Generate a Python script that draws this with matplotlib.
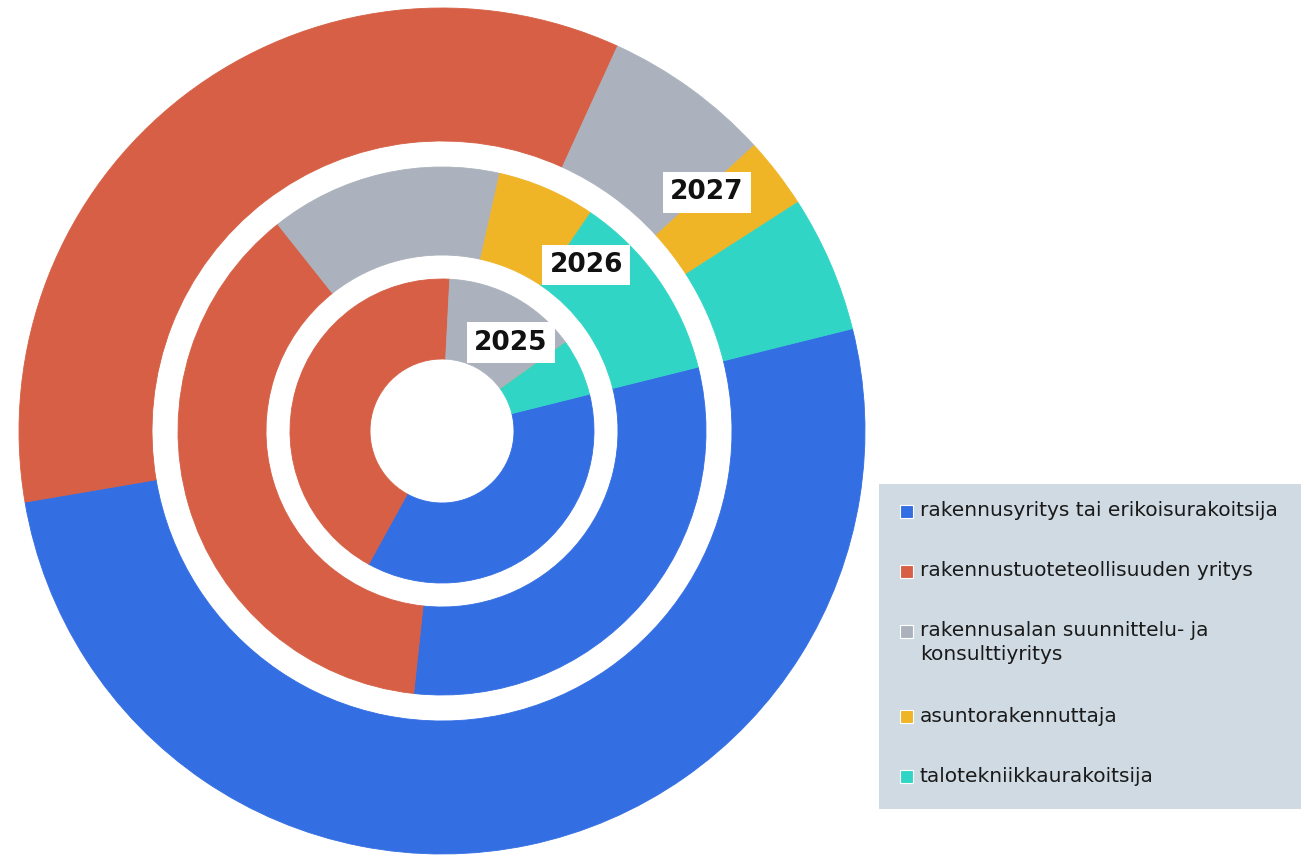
import matplotlib
matplotlib.use("Agg")
import numpy as np
import matplotlib.pyplot as plt
from matplotlib.patches import Rectangle

# ── Data (% share per ring) ───────────────────────────────────
categories = [
    "rakennusyritys tai erikoisurakoitsija",
    "rakennustuoteteollisuuden yritys",
    "rakennusalan suunnittelu- ja\nkonsulttiyritys",
    "asuntorakennuttaja",
    "talotekniikkaurakoitsija",
]
years = ["2025", "2026", "2027"]
share_2025 = [36.9, 42.8, 14.3, 0.0, 6.0]
share_2026 = [30.6, 37.6, 14.2, 6.0, 11.6]
share_2027 = [51.2, 34.5, 6.4, 2.7, 5.2]

colors = ["#336ee3", "#d65f45", "#abb2bd", "#f0b427", "#31d5c5"]

plt.rcParams["font.family"] = ["DejaVu Sans"]

W, H = 1309, 858
fig = plt.figure(figsize=(W / 100, H / 100), dpi=100)
ax = fig.add_axes([0, 0, 1, 1])

cx, cy = 442, 427
# (outer radius, inner radius) for each ring, pixels
rings = [(152, 72), (264, 176), (423, 290)]
label_angles = [52, 49, 42]

for vals, (r_out, r_in), year, ang in zip(
        [share_2025, share_2026, share_2027], rings, years, label_angles):
    wedges, _ = ax.pie(vals, colors=colors, radius=r_out, center=(cx, cy),
                       startangle=14, counterclock=False, frame=True,
                       wedgeprops=dict(width=r_out - r_in, linewidth=0.6))
    for w, c in zip(wedges, colors):
        w.set_edgecolor(c)
    r_mid = (r_out + r_in) / 2
    t = np.deg2rad(ang)
    ax.text(cx + r_mid * np.cos(t), cy + r_mid * np.sin(t), year,
            ha="center", va="center", fontsize=19, fontweight="bold",
            color="#111111",
            bbox=dict(boxstyle="square,pad=0.28", facecolor="white",
                      edgecolor="none"))

# ── Legend box ────────────────────────────────────────────────
ax.add_patch(Rectangle((879, 49), 422, 325, facecolor="#cfdae3",
                       edgecolor="none"))
y = 858 - 511
for lab, col in zip(categories, colors):
    lines = lab.split("\n")
    ax.add_patch(Rectangle((900, y - 6.5), 13, 13, facecolor=col,
                           edgecolor="white", linewidth=0.8))
    for i, ln in enumerate(lines):
        ax.text(920, y - i * 24, ln, ha="left", va="center",
                fontsize=14.5, color="#1a1a1a")
    y -= 60 + 25 * (len(lines) - 1)

ax.set_xlim(0, W)
ax.set_ylim(0, H)
ax.set_aspect("equal")
ax.axis("off")

fig.savefig("out.png", dpi=100, facecolor="white")
